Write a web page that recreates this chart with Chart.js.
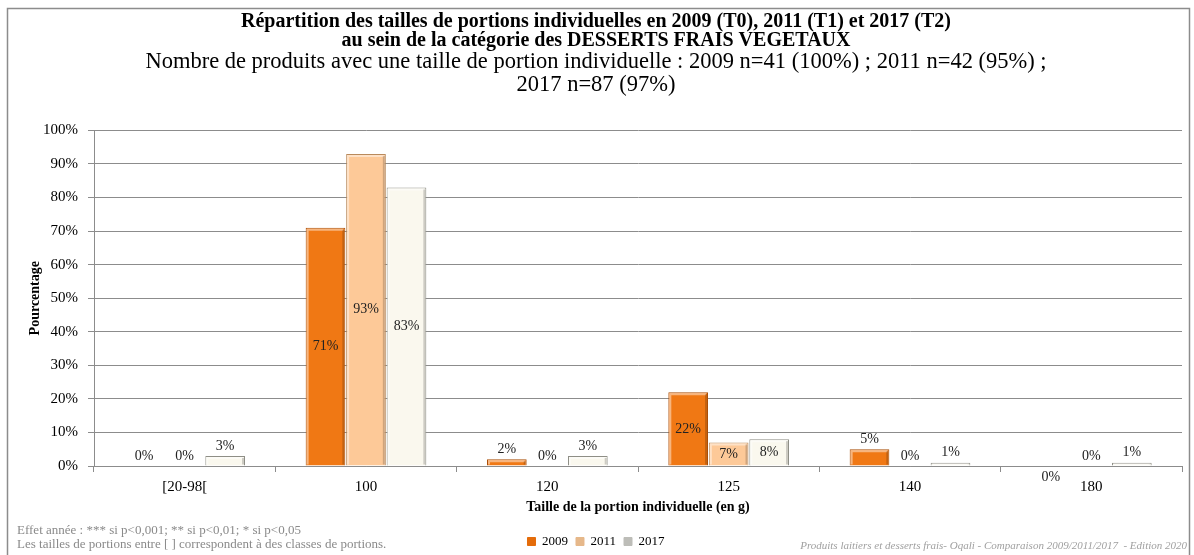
<!DOCTYPE html>
<html>
<head>
<meta charset="utf-8">
<script src="https://cdn.jsdelivr.net/npm/chart.js@4.4.0/dist/chart.umd.min.js"></script>
<style>
  html, body { margin: 0; padding: 0; background: #fff; }
  #wrap { width: 1194px; height: 555px; }
</style>
</head>
<body>
<div id="wrap"><canvas id="myChart" width="1194" height="555"></canvas></div>
<script>
const categories = ['[20-98[', '100', '120', '125', '140', '180'];
const years = ['2009', '2011', '2017'];
const values2009 = [0, 71, 2, 22, 5, 0];
const values2011 = [0, 93, 0, 7, 0, 0];
const values2017 = [3, 83, 3, 8, 1, 1];
const yTicks = [0, 10, 20, 30, 40, 50, 60, 70, 80, 90, 100];

const serif = "'Liberation Serif', 'DejaVu Serif', serif";

// frame + white background, footnotes
const framePlugin = {
  id: 'frame',
  beforeDraw(chart) {
    const c = chart.ctx;
    c.save();
    c.fillStyle = '#fff';
    c.fillRect(0, 0, chart.width, chart.height);
    c.strokeStyle = '#8c8c8c';
    c.lineWidth = 1.5;
    c.strokeRect(7.5, 8.5, 1182, 600);
    c.restore();
  },
  afterDraw(chart) {
    const c = chart.ctx;
    c.save();
    c.fillStyle = '#8a8a8a';
    c.font = '13px ' + serif;
    c.textBaseline = 'middle';
    c.textAlign = 'left';
    c.fillText('Effet année : *** si p<0,001; ** si p<0,01; * si p<0,05', 17, 531);
    c.fillText('Les tailles de portions entre [ ] correspondent à des classes de portions.', 17, 545);
    c.font = 'italic 11px ' + serif;
    c.fillStyle = '#a0a0a0';
    c.textAlign = 'right';
    c.fillText('Produits laitiers et desserts frais- Oqali - Comparaison 2009/2011/2017  - Edition 2020', 1187, 546);
    c.restore();
  }
};

// value labels on the bars + a light bevel
const labelPlugin = {
  id: 'barLabels',
  afterDatasetsDraw(chart) {
    const c = chart.ctx;
    c.save();
    chart.data.datasets.forEach((ds, di) => {
      const meta = chart.getDatasetMeta(di);
      meta.data.forEach((bar) => {
        const w = bar.width;
        const l = bar.x - w / 2, r = bar.x + w / 2;
        if (bar.base - bar.y < 2) return;
        c.strokeStyle = 'rgba(255,255,255,0.45)';
        c.lineWidth = 2;
        c.beginPath();
        c.moveTo(l + 2, bar.base - 1);
        c.lineTo(l + 2, bar.y + 2);
        c.lineTo(r - 2, bar.y + 2);
        c.stroke();
        c.strokeStyle = 'rgba(0,0,0,0.18)';
        c.beginPath();
        c.moveTo(r - 2, bar.y + 2);
        c.lineTo(r - 2, bar.base - 1);
        c.stroke();
      });
    });
    c.font = '14px ' + serif;
    c.fillStyle = '#222';
    c.textAlign = 'center';
    c.textBaseline = 'middle';
    chart.data.datasets.forEach((ds, di) => {
      const meta = chart.getDatasetMeta(di);
      meta.data.forEach((bar, i) => {
        const v = ds.data[i];
        let y;
        if (v >= 7) y = (bar.y + bar.base) / 2;
        else y = bar.y - 10;
        // excel quirk: last 2009 label sits below the axis
        if (di === 0 && i === categories.length - 1) y = bar.base + 11;
        c.fillText(v + '%', bar.x, y);
      });
    });
    c.restore();
  }
};

const ctx = document.getElementById('myChart');

new Chart(ctx, {
  type: 'bar',
  data: {
    labels: categories,
    datasets: [
      { label: years[0], data: values2009, backgroundColor: '#f07814', borderColor: '#a94e08', borderWidth: 1 },
      { label: years[1], data: values2011, backgroundColor: '#fdc998', borderColor: '#b98a5c', borderWidth: 1 },
      { label: years[2], data: values2017, backgroundColor: '#faf8ee', borderColor: '#8e8e86', borderWidth: 1 }
    ]
  },
  options: {
    responsive: false,
    animation: false,
    categoryPercentage: 0.67,
    barPercentage: 0.98,
    layout: { padding: { left: 10, right: 12, top: 0, bottom: -3 } },
    plugins: {
      title: {
        display: true,
        text: ['Répartition des tailles de portions individuelles en 2009 (T0), 2011 (T1) et 2017 (T2)',
               'au sein de la catégorie des DESSERTS FRAIS VEGETAUX'],
        font: { family: serif, size: 20, weight: 'bold', lineHeight: 0.95 },
        color: '#000',
        padding: { top: 12, bottom: 0 }
      },
      subtitle: {
        display: true,
        text: ['Nombre de produits avec une taille de portion individuelle : 2009 n=41 (100%) ; 2011 n=42 (95%) ;',
               '2017 n=87 (97%)'],
        font: { family: serif, size: 22.5, lineHeight: 1.02 },
        color: '#000',
        padding: { top: 0.5, bottom: 34 }
      },
      legend: {
        position: 'bottom',
        labels: {
          font: { family: serif, size: 13 },
          color: '#000',
          boxWidth: 8,
          boxHeight: 8,
          padding: 8,
          generateLabels(chart) {
            const items = Chart.defaults.plugins.legend.labels.generateLabels(chart);
            const boxCols = ['#e46c0a', '#e6b88a', '#bdbdb8'];
            items.forEach((it, i) => { it.fillStyle = boxCols[i]; it.strokeStyle = boxCols[i]; });
            return items;
          }
        }
      },
      tooltip: { enabled: false }
    },
    scales: {
      x: {
        afterFit(scale) { scale.height = 61; },
        grid: { display: true, drawOnChartArea: false, offset: true, tickLength: 6, color: '#8c8c8c' },
        border: { color: '#8c8c8c' },
        ticks: { font: { family: serif, size: 15 }, color: '#000', padding: 6 },
        title: {
          display: true,
          text: 'Taille de la portion individuelle (en g)',
          font: { family: serif, size: 14, weight: 'bold' },
          color: '#000',
          padding: { top: 0, bottom: 11 }
        }
      },
      y: {
        min: 0,
        max: 100,
        afterFit(scale) { scale.width = 84; },
        afterBuildTicks(scale) { scale.ticks = yTicks.map(v => ({ value: v })); },
        grid: { color: '#8c8c8c', tickLength: 6 },
        border: { color: '#8c8c8c' },
        ticks: {
          font: { family: serif, size: 15 },
          color: '#000',
          padding: 10,
          callback: v => v + '%'
        },
        title: {
          display: true,
          text: 'Pourcentage',
          font: { family: serif, size: 14, weight: 'bold' },
          color: '#000',
          padding: { top: 17, bottom: 0 }
        }
      }
    }
  },
  plugins: [framePlugin, labelPlugin]
});
</script>
</body>
</html>
